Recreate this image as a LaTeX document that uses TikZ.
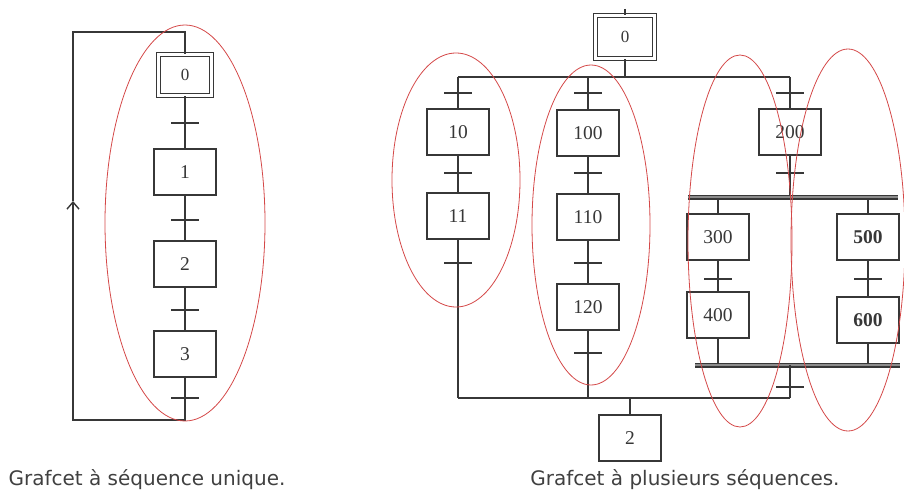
\documentclass[tikz,border=0pt]{standalone}
\usepackage{fontspec}
\setmainfont{Liberation Serif}
\newfontfamily\legfont{DejaVu Sans}
\usepackage{tikz}
\usetikzlibrary{arrows.meta}

\definecolor{trait}{RGB}{55,55,55}
\definecolor{rouge}{RGB}{212,72,72}

\begin{document}
\begin{tikzpicture}[x=1pt, y=-1pt,
    etape/.style={draw=trait, line width=1.3pt, fill=white, minimum width=62pt, minimum height=46pt, inner sep=0pt, text=trait, font=\fontsize{19.5}{22}\selectfont},
    init/.style={etape, double, double distance=3.5pt, line width=1.1pt, minimum width=53pt, minimum height=41pt},
    trans/.style={fill=trait, minimum width=28pt, minimum height=2pt, inner sep=0pt},
    lien/.style={draw=trait, line width=1.4pt},
    barre/.style={draw=trait, line width=1.9pt, double=black!45, double distance=1.2pt},
    seq/.style={draw=rouge, line width=0.8pt},
    legende/.style={text=black!75, font=\legfont\fontsize{20}{24}\selectfont}]
    \useasboundingbox (0,0) rectangle (904,497);

    % grafcet a sequence unique
    \node[init, font=\fontsize{17}{20}\selectfont] (e0) at (185,75) {0};
    \node[trans] (t1) at (185,123) {};
    \node[etape] (e1) at (185,172) {1};
    \node[trans] (t2) at (185,220) {};
    \node[etape] (e2) at (185,264) {2};
    \node[trans] (t3) at (185,310) {};
    \node[etape] (e3) at (185,354) {3};
    \node[trans] (t4) at (185,398) {};
    \coordinate (haut) at (185,32);
    \coordinate (bas) at (185,420);
    \coordinate (fleche) at (73,201);

    \draw[lien] (e0) -- (e1);
    \draw[lien] (e1) -- (e2);
    \draw[lien] (e2) -- (e3);
    \draw[lien, -{Straight Barb[length=7pt, width=12pt, line width=1.4pt]}] (e3.south) -- (bas) -| (fleche);
    \draw[lien] (fleche) |- (haut) -- (e0.north);

    % grafcet a plusieurs sequences
    \node[init, minimum width=59pt, minimum height=43pt, font=\fontsize{17}{20}\selectfont] (r0) at (625,37) {0};
    \coordinate (entree) at (625,9);
    \coordinate (div) at (625,77);
    \coordinate (divA) at (458,77);
    \coordinate (divC) at (790,77);
    \draw[lien] (entree) -- (r0.north);
    \draw[lien] (r0.south) -- (div);
    \draw[lien] (divA) -- (divC);

    \node[trans] (ta1) at (458,93) {};
    \node[etape] (e10) at (458,132) {10};
    \node[trans] (ta2) at (458,173) {};
    \node[etape] (e11) at (458,216) {11};
    \node[trans] (ta3) at (458,263) {};

    \node[trans] (tb1) at (588,93) {};
    \node[etape] (e100) at (588,133) {100};
    \node[trans] (tb2) at (588,173) {};
    \node[etape] (e110) at (588,217) {110};
    \node[trans] (tb3) at (588,263) {};
    \node[etape] (e120) at (588,307) {120};
    \node[trans] (tb4) at (588,353) {};

    \node[trans] (tc1) at (790,93) {};
    \node[etape] (e200) at (790,132) {200};
    \node[trans] (tc2) at (790,173) {};

    \coordinate (etG) at (688,197);
    \coordinate (etD) at (898,197);
    \coordinate (etC) at (790,197);
    \node[etape] (e300) at (718,237) {300};
    \node[trans] (td1) at (718,279) {};
    \node[etape] (e400) at (718,315) {400};
    \node[etape] (e500) at (868,237) {\textbf{500}};
    \node[trans] (te1) at (868,279) {};
    \node[etape] (e600) at (868,320) {\textbf{600}};
    \coordinate (ftG) at (695,365);
    \coordinate (ftD) at (900,365);
    \coordinate (ftC) at (790,365);
    \node[trans] (tc3) at (790,387) {};

    \coordinate (convA) at (458,398);
    \coordinate (convC) at (790,398);
    \coordinate (conv) at (630,398);
    \node[etape] (r2) at (630,438) {2};

    \draw[lien] (divA) -- (e10);
    \draw[lien] (e10) -- (e11);
    \draw[lien] (e11) -- (convA);
    \draw[lien] (div -| e100) -- (e100);
    \draw[lien] (e100) -- (e110);
    \draw[lien] (e110) -- (e120);
    \draw[lien] (e120) -- (convA -| e120);
    \draw[lien] (divC) -- (e200);
    \draw[lien] (e200) -- (etC);
    \draw[lien] (e300.north) -- (e300.north |- etG);
    \draw[lien] (e300) -- (e400);
    \draw[lien] (e400.south) -- (e400.south |- ftG);
    \draw[lien] (e500.north) -- (e500.north |- etG);
    \draw[lien] (e500) -- (e600);
    \draw[lien] (e600.south) -- (e600.south |- ftG);
    \draw[barre] (etG) -- (etD);
    \draw[barre] (ftG) -- (ftD);
    \draw[lien] (ftC) -- (convC);
    \draw[lien] (convA) -- (convC);
    \draw[lien] (conv) -- (r2);

    % sequences
    \draw[seq] (185,223) ellipse [x radius=80pt, y radius=198pt];
    \draw[seq] (456,180) ellipse [x radius=64pt, y radius=127pt];
    \draw[seq] (591,225) ellipse [x radius=59pt, y radius=160pt];
    \draw[seq] (740,241) ellipse [x radius=52pt, y radius=186pt];
    \draw[seq] (848,240) ellipse [x radius=57pt, y radius=191pt];

    \node[legende] (leg1) at (147,480) {Grafcet à séquence unique.};
    \node[legende] (leg2) at (685,480) {Grafcet à plusieurs séquences.};
\end{tikzpicture}
\end{document}
